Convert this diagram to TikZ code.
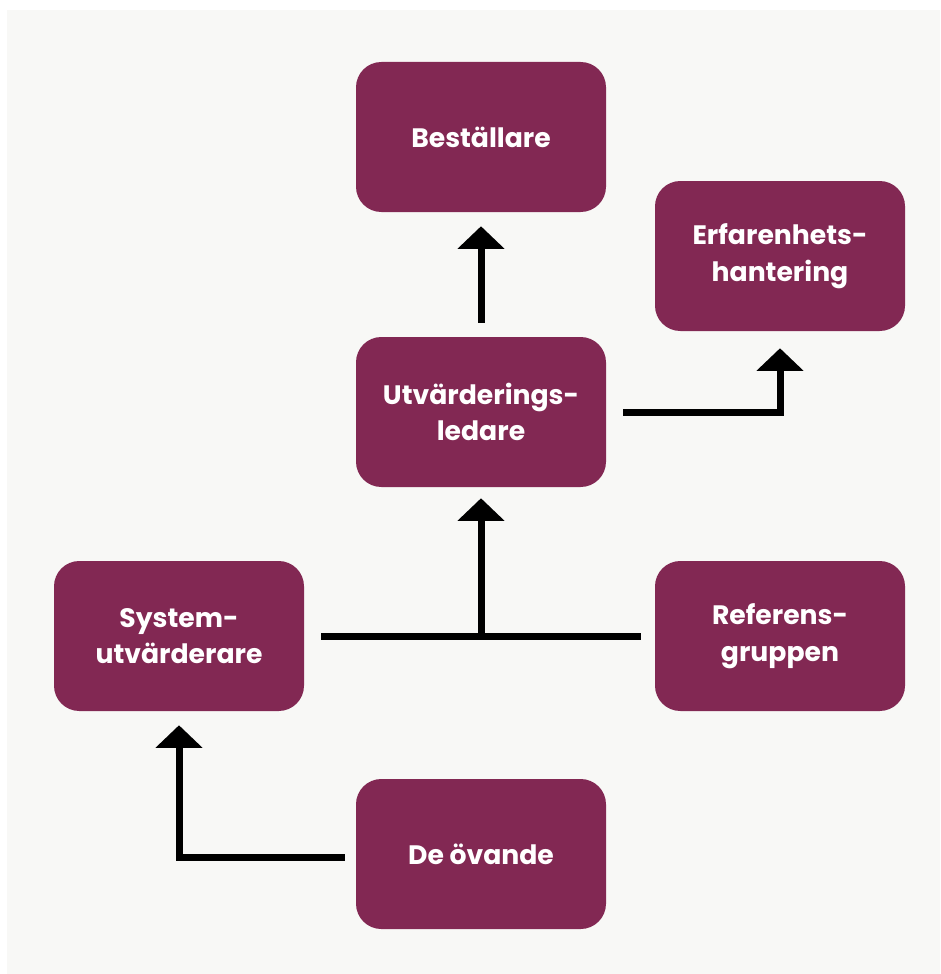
\documentclass[tikz,border=0pt]{standalone}
\usepackage{fontspec}
\setmainfont{Poppins}
\usetikzlibrary{arrows.meta,calc}
\definecolor{boxc}{RGB}{130,40,83}
\definecolor{bgc}{RGB}{248,248,246}
\begin{document}
\begin{tikzpicture}[x=0.75pt,y=-0.75pt,
  box/.style={fill=boxc, rounded corners=19pt, minimum width=187.5pt, minimum height=112.5pt,
    text=white, font=\bfseries\fontsize{20}{27.5}\selectfont, align=center, inner sep=0pt},
  conn/.style={line width=5.25pt, -{Triangle[width=34.5pt,length=17pt]}},
  plain/.style={line width=5.25pt}]
\useasboundingbox (0,0) rectangle (940,974);
\fill[white] (0,0) rectangle (940,974);
\fill[bgc] (7,10) rectangle (940,974);
\node[box] (best) at (481,137) {Beställare};
\node[box] (erf) at (780,256) {Erfarenhets-\\hantering};
\node[box] (utv) at (481,412) {Utvärderings-\\ledare};
\node[box] (sys) at (179,636) {System-\\utvärderare};
\node[box] (ref) at (780,636) {Referens-\\gruppen};
\node[box] (ova) at (481,854) {De övande};
% Utv -> Best
\coordinate (u1) at ($(utv.north)+(0,-14)$);
\coordinate (b1) at ($(best.south)+(0,14)$);
\draw[conn] (u1) -- (b1);
% Utv -> Erf
\coordinate (u2) at ($(utv.east)+(17,0)$);
\coordinate (e1) at ($(erf.south)+(0,17)$);
\draw[conn] (u2) -| (e1);
% Sys/Ref -> Utv
\coordinate (s1) at ($(sys.east)+(17,0)$);
\coordinate (r1) at ($(ref.west)+(-14,0)$);
\coordinate (j) at (utv.south |- s1);
\coordinate (u3) at ($(utv.south)+(0,11)$);
\draw[plain] (s1) -- (r1);
\draw[conn] (j) -- (u3);
% Ova -> Sys
\coordinate (o1) at ($(ova.west)+(-11,3)$);
\coordinate (s2) at ($(sys.south)+(0,14)$);
\draw[conn] (o1) -| (s2);
\end{tikzpicture}
\end{document}
